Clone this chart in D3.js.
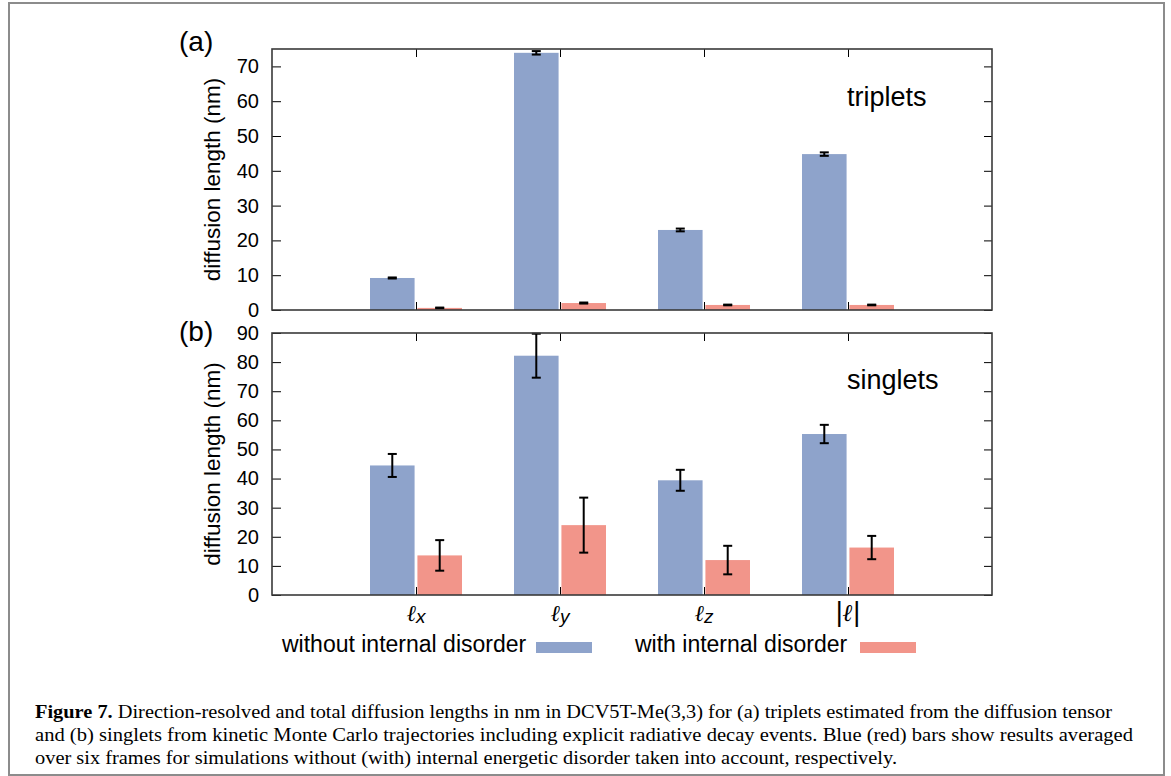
<!DOCTYPE html>
<html>
<head>
<meta charset="utf-8">
<script src="https://cdn.jsdelivr.net/npm/d3@7"></script>
<style>
  body { margin: 0; background: #fff; }
  svg { display: block; }
  .tick text { font-family: "Liberation Sans", Arial, sans-serif; font-size: 20px; fill: #000; }
  .tick line { stroke: #000; stroke-width: 1; }
</style>
</head>
<body>
<div id="chart"></div>
<script>
// categories along the x axis
var categories = ['x', 'y', 'z', 'abs'];
var seriesNames = ['without internal disorder', 'with internal disorder'];

// (a) triplets
var tripletsWithout = [9.2, 73.9, 23.0, 44.8];
var tripletsWithoutErr = [0.15, 0.5, 0.4, 0.5];
var tripletsWith = [0.6, 2.0, 1.45, 1.45];
var tripletsWithErr = [0.1, 0.15, 0.1, 0.1];

// (b) singlets
var singletsWithout = [44.5, 82.2, 39.4, 55.3];
var singletsWithoutErr = [3.95, 7.55, 3.6, 3.15];
var singletsWith = [13.6, 24.0, 12.0, 16.3];
var singletsWithErr = [5.25, 9.45, 4.9, 4.0];

var yTicksA = [0, 10, 20, 30, 40, 50, 60, 70];
var yTicksB = [0, 10, 20, 30, 40, 50, 60, 70, 80, 90];

var colors = ['#8ea3cb', '#f2958a'];
var sans = '"Liberation Sans", Arial, Helvetica, sans-serif';
var serif = '"Liberation Serif", "Times New Roman", serif';

var width = 1171, height = 776;
var svg = d3.select('#chart').append('svg')
  .attr('width', width)
  .attr('height', height);

/* outer figure frame */
svg.append('rect')
  .attr('x', 9).attr('y', 3)
  .attr('width', 1155).attr('height', 772)
  .attr('fill', 'none')
  .attr('stroke', '#8c8c8c')
  .attr('stroke-width', 2);

var plotLeft = 272, plotRight = 992;
var x = d3.scaleLinear().domain([0, categories.length + 1]).range([plotLeft, plotRight]);
var xSub = d3.scaleBand().domain(seriesNames).range([-46, 46]).paddingInner(0.06);

var panels = [
  { letter: '(a)', letterY: 51, top: 49, bottom: 310, max: 75, ticks: yTicksA,
    values: [tripletsWithout, tripletsWith], errors: [tripletsWithoutErr, tripletsWithErr],
    name: 'triplets', nameY: 106 },
  { letter: '(b)', letterY: 341, top: 333, bottom: 595, max: 90, ticks: yTicksB,
    values: [singletsWithout, singletsWith], errors: [singletsWithoutErr, singletsWithErr],
    name: 'singlets', nameY: 389 }
];

panels.forEach(function(p) {
  var y = d3.scaleLinear().domain([0, p.max]).range([p.bottom, p.top]);
  var g = svg.append('g');

  /* bars */
  p.values.forEach(function(vals, s) {
    g.append('g').selectAll('rect')
      .data(vals)
      .enter().append('rect')
        .attr('x', function(d, i) { return x(i + 1) + xSub(seriesNames[s]); })
        .attr('width', xSub.bandwidth())
        .attr('y', function(d) { return y(d); })
        .attr('height', function(d) { return y(0) - y(d); })
        .attr('fill', colors[s]);
  });

  /* error bars */
  p.values.forEach(function(vals, s) {
    var errs = p.errors[s];
    var eg = g.append('g').attr('stroke', '#000').attr('stroke-width', 2);
    vals.forEach(function(v, i) {
      var cx = x(i + 1) + xSub(seriesNames[s]) + xSub.bandwidth() / 2;
      var lo = y(v - errs[i]), hi = y(v + errs[i]);
      eg.append('line').attr('x1', cx).attr('x2', cx).attr('y1', lo).attr('y2', hi);
      eg.append('line').attr('x1', cx - 4.5).attr('x2', cx + 4.5).attr('y1', lo).attr('y2', lo);
      eg.append('line').attr('x1', cx - 4.5).attr('x2', cx + 4.5).attr('y1', hi).attr('y2', hi);
    });
  });

  /* axes, ticks pointing inward */
  var xVals = d3.range(1, categories.length + 1);
  g.append('g')
    .attr('transform', 'translate(' + plotLeft + ',0)')
    .call(d3.axisLeft(y).tickValues(p.ticks).tickSizeInner(-9).tickSizeOuter(0).tickPadding(13))
    .call(function(a) { a.select('.domain').remove(); });
  g.append('g')
    .attr('transform', 'translate(' + plotRight + ',0)')
    .call(d3.axisRight(y).tickValues(p.ticks).tickSizeInner(-8).tickSizeOuter(0).tickFormat(''))
    .call(function(a) { a.select('.domain').remove(); });
  g.append('g')
    .attr('transform', 'translate(0,' + p.bottom + ')')
    .call(d3.axisBottom(x).tickValues(xVals).tickSizeInner(-8).tickSizeOuter(0).tickFormat(''))
    .call(function(a) { a.select('.domain').remove(); });
  g.append('g')
    .attr('transform', 'translate(0,' + p.top + ')')
    .call(d3.axisTop(x).tickValues(xVals).tickSizeInner(-8).tickSizeOuter(0).tickFormat(''))
    .call(function(a) { a.select('.domain').remove(); });

  /* plot frame */
  g.append('rect')
    .attr('x', plotLeft).attr('y', p.top)
    .attr('width', plotRight - plotLeft).attr('height', p.bottom - p.top)
    .attr('fill', 'none')
    .attr('stroke', '#3a3a3a')
    .attr('stroke-width', 1.6);

  /* y label */
  g.append('text')
    .attr('transform', 'translate(220,' + ((p.top + p.bottom) / 2) + ') rotate(-90)')
    .attr('text-anchor', 'middle')
    .style('font-family', sans)
    .style('font-size', '22.5px')
    .text('diffusion length (nm)');

  /* panel letter */
  g.append('text')
    .attr('x', 179).attr('y', p.letterY)
    .style('font-family', sans)
    .style('font-size', '28px')
    .text(p.letter);

  /* panel name */
  g.append('text')
    .attr('x', 847).attr('y', p.nameY)
    .style('font-family', sans)
    .style('font-size', '27px')
    .text(p.name);
});

/* category labels under panel (b) */
var catG = svg.append('g');
categories.forEach(function(c, i) {
  var t = catG.append('text')
    .attr('x', x(i + 1)).attr('y', 621)
    .attr('text-anchor', 'middle');
  if (c === 'abs') {
    t.append('tspan').style('font-family', sans).style('font-size', '27px').style('font-weight', 300).text('|');
    t.append('tspan').style('font-family', serif).style('font-size', '24px')
      .style('font-style', 'italic').style('font-weight', 'bold').text('\u2113');
    t.append('tspan').style('font-family', sans).style('font-size', '27px').style('font-weight', 300).text('|');
  } else {
    t.append('tspan').style('font-family', serif).style('font-size', '23px')
      .style('font-style', 'italic').text('\u2113');
    t.append('tspan').attr('dy', 2).style('font-family', sans).style('font-size', '19px')
      .style('font-style', 'italic').text(c);
  }
});

/* legend */
var legend = svg.append('g');
var legendItems = [
  { text: seriesNames[0], tx: 282, sx: 536 },
  { text: seriesNames[1], tx: 635, sx: 860 }
];
legendItems.forEach(function(d, i) {
  legend.append('text')
    .attr('x', d.tx).attr('y', 652)
    .style('font-family', sans)
    .style('font-size', '23px')
    .text(d.text);
  legend.append('rect')
    .attr('x', d.sx).attr('y', 642)
    .attr('width', 56).attr('height', 11)
    .attr('fill', colors[i]);
});

/* caption */
var captionLines = [
  { bold: 'Figure 7.', text: ' Direction-resolved and total diffusion lengths in nm in DCV5T-Me(3,3) for (a) triplets estimated from the diffusion tensor', len: 1077 },
  { bold: '', text: 'and (b) singlets from kinetic Monte Carlo trajectories including explicit radiative decay events. Blue (red) bars show results averaged', len: 1098 },
  { bold: '', text: 'over six frames for simulations without (with) internal energetic disorder taken into account, respectively.', len: 862 }
];
var capY = [718, 741, 764];
captionLines.forEach(function(l, i) {
  var t = svg.append('text')
    .attr('x', 35).attr('y', capY[i])
    .attr('textLength', l.len)
    .attr('lengthAdjust', 'spacingAndGlyphs')
    .style('font-family', serif)
    .style('font-size', '19px');
  if (l.bold) t.append('tspan').style('font-weight', 'bold').text(l.bold);
  t.append('tspan').text(l.text);
});
</script>
</body>
</html>
